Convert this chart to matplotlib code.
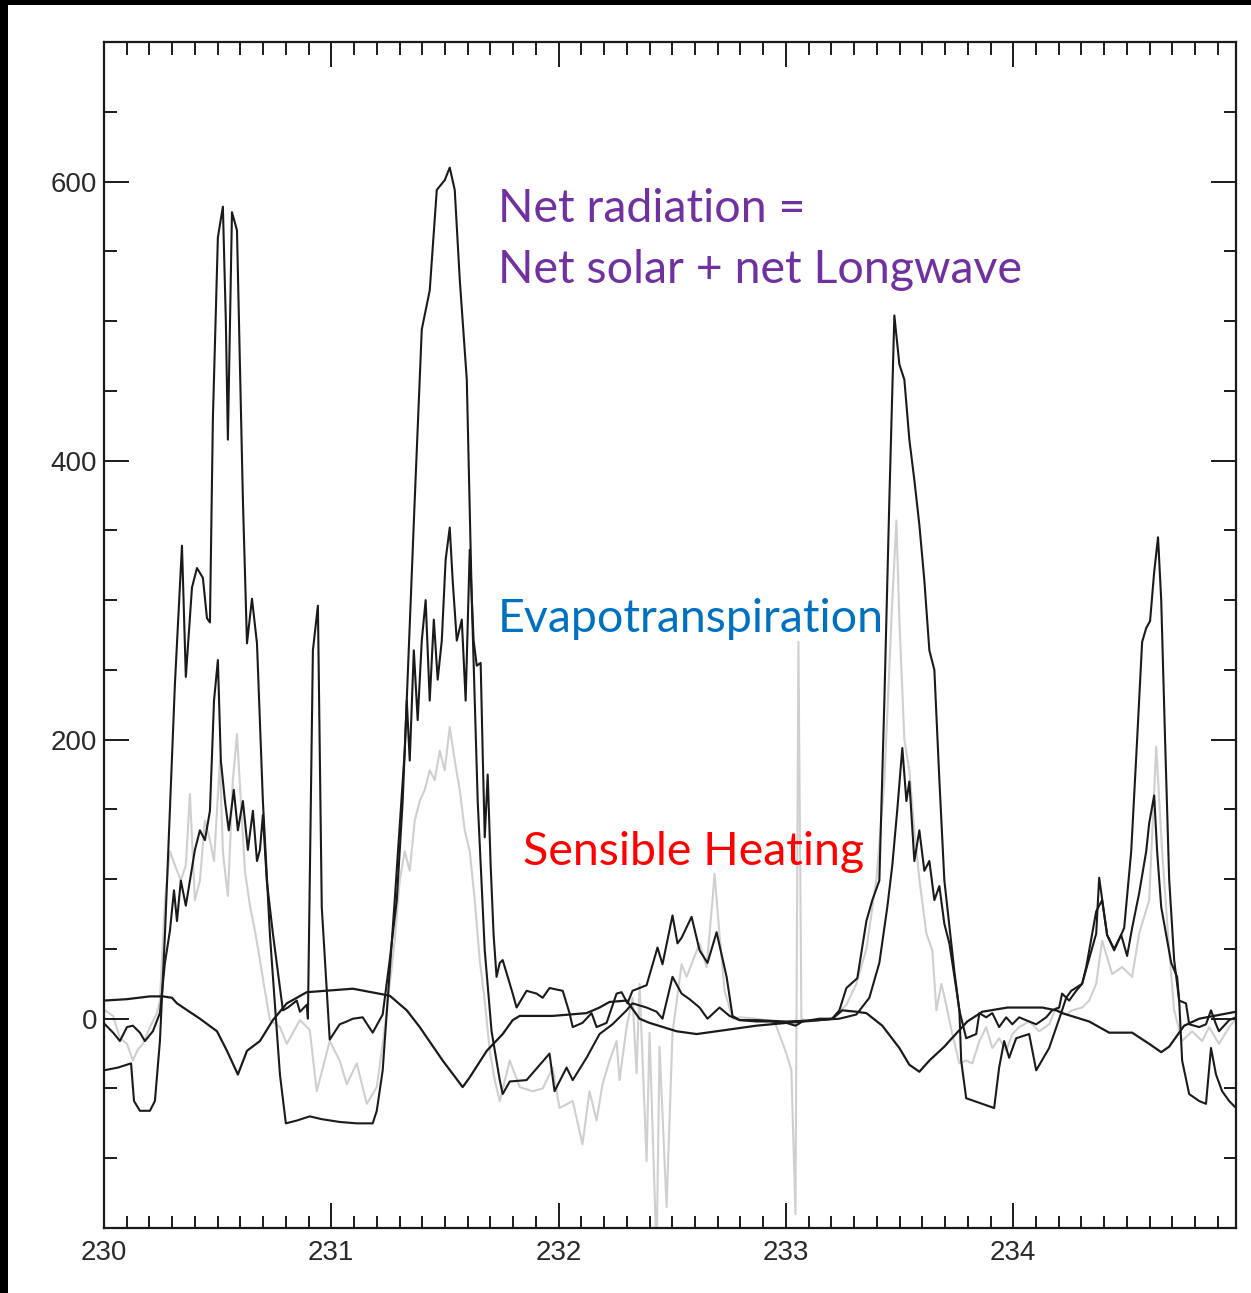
import matplotlib
matplotlib.use("Agg")
import matplotlib.pyplot as plt
from matplotlib.ticker import MultipleLocator
from matplotlib.patches import Rectangle

# ---- surface energy balance, days 230-235 (W m-2) ----
rn_day = [230.000, 230.062, 230.119, 230.132, 230.158, 230.202, 230.224, 230.246, 230.268, 230.290,
          230.312, 230.343, 230.360, 230.387, 230.409, 230.435, 230.453, 230.466, 230.479, 230.501,
          230.523, 230.536, 230.545, 230.563, 230.585, 230.611, 230.629, 230.651, 230.673, 230.699,
          230.730, 230.774, 230.800, 230.848, 230.905, 230.958, 231.037, 231.112, 231.182, 231.200,
          231.226, 231.279, 231.323, 231.367, 231.398, 231.433, 231.464, 231.499, 231.521, 231.543,
          231.565, 231.596, 231.618, 231.644, 231.675, 231.705, 231.741, 231.754, 231.785, 231.859,
          231.960, 231.982, 232.035, 232.062, 232.123, 232.180, 232.237, 232.299, 232.325, 232.387,
          232.431, 232.457, 232.501, 232.541, 232.576, 232.620, 232.655, 232.708, 232.752, 232.796,
          232.870, 232.927, 233.002, 233.042, 233.073, 233.147, 233.204, 233.235, 233.266, 233.314,
          233.354, 233.380, 233.411, 233.433, 233.455, 233.477, 233.499, 233.521, 233.543, 233.565,
          233.587, 233.609, 233.631, 233.653, 233.675, 233.697, 233.741, 233.763, 233.771, 233.793,
          233.881, 233.916, 233.938, 233.960, 233.982, 234.013, 234.070, 234.101, 234.158, 234.215,
          234.233, 234.255, 234.303, 234.365, 234.378, 234.413, 234.444, 234.488, 234.519, 234.545,
          234.567, 234.585, 234.602, 234.620, 234.637, 234.651, 234.668, 234.686, 234.708, 234.730,
          234.743, 234.774, 234.818, 234.848, 234.870, 234.892, 234.919, 234.950, 234.980]
rn_val = [-37, -35, -32, -59, -66, -66, -59, -16, 60, 150,
          240, 339, 245, 309, 323, 316, 287, 284, 430, 560,
          582, 500, 415, 578, 565, 372, 269, 301, 269, 156,
          60, -40, -75, -73, -70, -72, -74, -75, -75, -66,
          -37, 85, 192, 372, 494, 522, 594, 601, 610, 594,
          530, 458, 300, 156, 49, -9, -44, -54, -45, -44,
          -25, -52, -35, -44, -28, -11, -4, 6, 11, 8,
          5, 0, 30, 18, 14, 8, 0, 8, 2, -1,
          -2, -2, -3, -5, -2, 0, 0, 6, 22, 29,
          70, 85, 99, 228, 372, 504, 469, 458, 415, 386,
          354, 314, 264, 250, 171, 99, 34, 6, -30, -57,
          -62, -64, -35, -16, -28, -14, -11, -37, -21, 6,
          15, 20, 25, 61, 101, 60, 49, 65, 120, 200,
          270, 280, 285, 320, 345, 300, 200, 100, 42, 13,
          -30, -54, -59, -61, -21, -40, -52, -59, -64]

le_day = [230.004, 230.040, 230.070, 230.101, 230.127, 230.158, 230.180, 230.215, 230.246, 230.268,
          230.290, 230.308, 230.321, 230.338, 230.360, 230.378, 230.400, 230.422, 230.444, 230.466,
          230.484, 230.501, 230.514, 230.532, 230.549, 230.571, 230.589, 230.611, 230.633, 230.655,
          230.673, 230.686, 230.699, 230.716, 230.743, 230.787, 230.809, 230.848, 230.862, 230.892,
          230.897, 230.919, 230.941, 230.958, 230.993, 231.037, 231.068, 231.095, 231.138, 231.182,
          231.226, 231.257, 231.288, 231.314, 231.332, 231.345, 231.363, 231.380, 231.398, 231.415,
          231.433, 231.451, 231.468, 231.486, 231.503, 231.521, 231.534, 231.552, 231.574, 231.591,
          231.609, 231.626, 231.640, 231.657, 231.666, 231.675, 231.688, 231.701, 231.714, 231.727,
          231.741, 231.754, 231.798, 231.815, 231.859, 231.903, 231.930, 231.960, 232.018, 232.048,
          232.062, 232.105, 232.145, 232.167, 232.211, 232.255, 232.277, 232.303, 232.325, 232.356,
          232.387, 232.435, 232.457, 232.501, 232.523, 232.541, 232.585, 232.620, 232.655, 232.695,
          232.739, 232.765, 232.796, 232.870, 233.002, 233.147, 233.235, 233.310, 233.367, 233.411,
          233.446, 233.468, 233.490, 233.512, 233.530, 233.543, 233.565, 233.587, 233.609, 233.631,
          233.653, 233.675, 233.697, 233.719, 233.749, 233.763, 233.793, 233.837, 233.851, 233.881,
          233.908, 233.938, 233.969, 233.996, 234.026, 234.070, 234.101, 234.145, 234.171, 234.202,
          234.215, 234.246, 234.277, 234.303, 234.321, 234.365, 234.391, 234.413, 234.444, 234.475,
          234.501, 234.523, 234.554, 234.585, 234.598, 234.620, 234.633, 234.651, 234.673, 234.695,
          234.721, 234.730, 234.760, 234.774, 234.818, 234.848, 234.870, 234.892, 234.905, 234.950,
          234.980]
le_val = [-4, -10, -16, -6, -5, -10, -16, -9, 4, 40,
          63, 92, 70, 99, 81, 99, 121, 135, 128, 149,
          228, 257, 185, 156, 135, 164, 135, 156, 121, 149,
          113, 121, 146, 99, 61, 6, 8, 13, 5, 10,
          0, 264, 296, 80, -15, -4, -2, 0, 1, -10,
          3, 42, 85, 156, 228, 185, 264, 214, 271, 300,
          228, 286, 243, 271, 329, 352, 314, 271, 286, 228,
          336, 271, 253, 255, 190, 130, 175, 110, 60, 30,
          40, 42, 18, 8, 20, 18, 15, 22, 20, 4,
          -6, -3, 4, -6, -3, 18, 19, 11, 20, 22,
          24, 51, 39, 74, 54, 58, 73, 49, 40, 62,
          30, 2, -1, -1, -2, -1, 0, 3, 15, 40,
          80, 110, 150, 194, 156, 170, 113, 135, 106, 113,
          85, 95, 68, 54, 22, 6, -14, -11, 4, 1,
          4, -6, 1, -4, 1, -2, -4, 1, 6, 8,
          18, 13, 20, 25, 37, 77, 85, 60, 50, 60,
          45, 65, 90, 120, 140, 160, 120, 80, 60, 40,
          30, 13, 11, -4, -6, -4, 6, -4, -9, -1,
          1]

alt_day = [230.004, 230.040, 230.070, 230.101, 230.127, 230.149, 230.171, 230.202, 230.233, 230.246,
           230.268, 230.290, 230.312, 230.338, 230.360, 230.378, 230.400, 230.422, 230.444, 230.466,
           230.484, 230.510, 230.523, 230.532, 230.545, 230.567, 230.585, 230.602, 230.620, 230.642,
           230.664, 230.686, 230.708, 230.730, 230.774, 230.804, 230.862, 230.905, 230.936, 230.993,
           231.037, 231.068, 231.112, 231.156, 231.200, 231.226, 231.244, 231.279, 231.301, 231.323,
           231.345, 231.367, 231.389, 231.411, 231.433, 231.455, 231.477, 231.499, 231.521, 231.543,
           231.565, 231.587, 231.609, 231.631, 231.653, 231.675, 231.697, 231.719, 231.741, 231.785,
           231.829, 231.886, 231.930, 231.974, 232.004, 232.062, 232.105, 232.136, 232.167, 232.193,
           232.224, 232.255, 232.268, 232.299, 232.325, 232.343, 232.356, 232.387, 232.400, 232.431,
           232.444, 232.475, 232.501, 232.541, 232.563, 232.620, 232.651, 232.677, 232.686, 232.708,
           232.730, 232.765, 232.800, 232.870, 232.950, 233.002, 233.024, 233.042, 233.055, 233.068,
           233.100, 233.200, 233.266, 233.310, 233.354, 233.398, 233.433, 233.468, 233.486, 233.499,
           233.521, 233.543, 233.565, 233.587, 233.618, 233.644, 233.662, 233.684, 233.705, 233.732,
           233.763, 233.793, 233.820, 233.851, 233.881, 233.908, 233.938, 233.969, 233.996, 234.026,
           234.070, 234.114, 234.158, 234.189, 234.233, 234.259, 234.303, 234.334, 234.365, 234.391,
           234.435, 234.479, 234.523, 234.554, 234.598, 234.629, 234.655, 234.686, 234.708, 234.743,
           234.787, 234.831, 234.862, 234.905, 234.950, 234.980]
alt_val = [6, 2, -14, -18, -30, -22, -18, -6, 4, 13,
           85, 120, 110, 99, 110, 161, 85, 99, 142, 128,
           113, 185, 120, 106, 88, 171, 204, 156, 106, 81,
           63, 42, 20, -1, -6, -18, -1, -8, -52, -16,
           -30, -47, -32, -61, -49, -18, 6, 56, 99, 120,
           106, 142, 156, 164, 178, 171, 192, 178, 209, 185,
           164, 135, 120, 85, 42, 13, -23, -44, -59, -30,
           -49, -52, -50, -35, -64, -59, -90, -52, -73, -47,
           -30, -16, -44, -6, 15, -39, 25, -102, -10, -170,
           -20, -135, -10, 39, 30, 54, 37, 85, 104, 60,
           20, 0, 1, 0, -2, -25, -37, -140, 270, 0,
           -2, 0, 10, 25, 50, 100, 170, 300, 357, 286,
           200, 178, 135, 100, 61, 49, 6, 25, 10, -11,
           -32, -30, -32, -16, -6, -21, -14, -23, -11, -6,
           -2, -9, -4, 8, 3, 6, 8, 13, 25, 56,
           32, 37, 30, 61, 85, 195, 120, 49, 6, -16,
           -9, -16, -6, -18, -6, 0]

g_day = [230.000, 230.101, 230.202, 230.259, 230.299, 230.321, 230.422, 230.497, 230.541, 230.589,
         230.629, 230.686, 230.743, 230.804, 230.892, 231.095, 231.257, 231.332, 231.389, 231.490,
         231.578, 231.609, 231.684, 231.754, 231.798, 231.829, 231.974, 232.123, 232.180, 232.224,
         232.299, 232.356, 232.400, 232.519, 232.607, 232.739, 232.870, 233.002, 233.147, 233.204,
         233.248, 233.310, 233.354, 233.424, 233.499, 233.543, 233.587, 233.631, 233.697, 233.719,
         233.798, 233.864, 233.974, 234.127, 234.189, 234.215, 234.334, 234.422, 234.523, 234.598,
         234.651, 234.686, 234.752, 234.818, 234.980]
g_val = [13, 14, 16, 16, 15, 11, 0, -9, -23, -40,
         -23, -16, -1, 11, 19, 21.5, 16.5, 6, -6, -30,
         -49, -42, -23, -11, -1, 2, 2, 4, 8, 12,
         13, 0, -3, -9, -11, -8, -5, -3, -1, 0,
         6, 5, 4, -5, -21, -33, -38, -30, -20, -16,
         -2, 5, 8, 8, 6, 4, -2, -10, -10, -18,
         -24, -20, -5, 0, 5]

x_ticks = [230, 231, 232, 233, 234]
y_ticks = [0, 200, 400, 600]

W, H = 1251, 1293
fig = plt.figure(figsize=(W / 100, H / 100), dpi=100)
fig.patch.set_facecolor("white")
ax = fig.add_axes([104 / W, 1 - 1228 / H, (1236 - 104) / W, (1228 - 42) / H])

ax.plot(alt_day, alt_val, color="#cfcfcf", lw=1.5, zorder=1)
ax.plot(g_day, g_val, color="#1a1a1a", lw=1.6, zorder=2)
ax.plot(le_day, le_val, color="#1a1a1a", lw=1.5, zorder=3)
ax.plot(rn_day, rn_val, color="#1a1a1a", lw=1.5, zorder=4)

ax.set_xlim(230, 234.98)
ax.set_ylim(-150, 700)
ax.set_xticks(x_ticks)
ax.set_xticklabels([str(t) for t in x_ticks])
ax.set_yticks(y_ticks)
ax.set_yticklabels([str(t) for t in y_ticks])
ax.xaxis.set_minor_locator(MultipleLocator(0.1))
ax.yaxis.set_minor_locator(MultipleLocator(50))
ax.tick_params(which="both", direction="in", top=True, right=True,
               width=1.4, color="#1a1a1a", labelsize=20, labelcolor="#2a2a2a")
ax.tick_params(which="major", length=18)
ax.tick_params(which="minor", length=9)
ax.tick_params(axis="x", pad=9)
ax.tick_params(axis="y", pad=5)
for lab in ax.get_xticklabels() + ax.get_yticklabels():
    lab.set_family("Liberation Sans")
for sp in ax.spines.values():
    sp.set_linewidth(1.6)
    sp.set_color("#1a1a1a")

# annotations
font = ["Lato", "DejaVu Sans"]
fig.text(498 / W, 1 - 222 / H, "Net radiation =", color="#7030A0",
         fontsize=33.5, family=font, va="baseline")
fig.text(498 / W, 1 - 283 / H, "Net solar + net Longwave", color="#7030A0",
         fontsize=33.5, family=font, va="baseline")
fig.text(498 / W, 1 - 632 / H, "Evapotranspiration", color="#0070C0",
         fontsize=33.5, family=font, va="baseline")
fig.text(523 / W, 1 - 865 / H, "Sensible Heating", color="#FF0000",
         fontsize=33.5, family=font, va="baseline")

# dark frame strips along the left and top edges
fig.patches.append(Rectangle((0, 0), 8 / W, 1, transform=fig.transFigure,
                             facecolor="black", edgecolor="none", zorder=10))
fig.patches.append(Rectangle((0, 1 - 5 / H), 1, 5 / H, transform=fig.transFigure,
                             facecolor="black", edgecolor="none", zorder=10))

fig.savefig("out.png", dpi=100)
